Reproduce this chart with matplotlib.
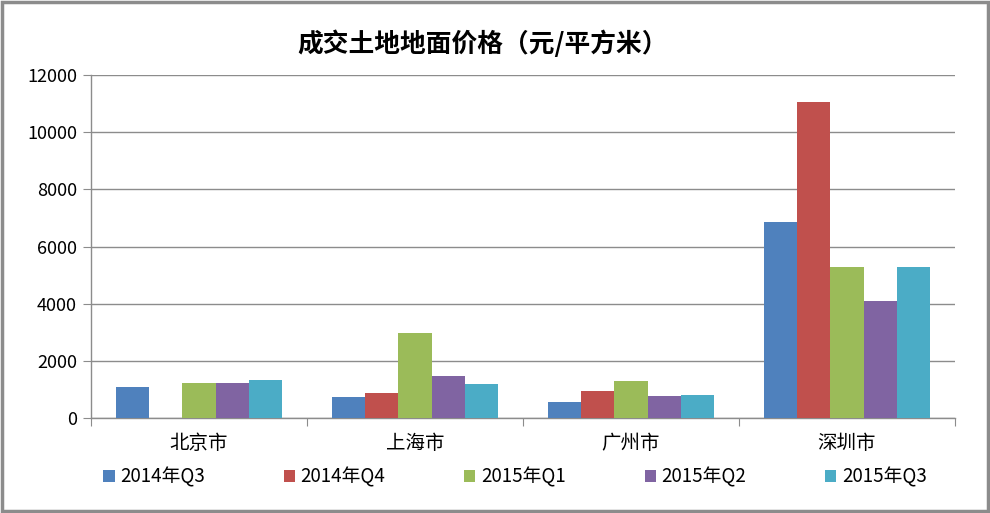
import matplotlib
matplotlib.use("Agg")
import matplotlib.pyplot as plt
from matplotlib.patches import Rectangle
import numpy as np

plt.rcParams['font.family'] = ['Noto Sans CJK SC', 'DejaVu Sans']

cities = ["北京市", "上海市", "广州市", "深圳市"]
series_names = ["2014年Q3", "2014年Q4", "2015年Q1", "2015年Q2", "2015年Q3"]
q3_2014 = [1100, 750, 570, 6840]
q4_2014 = [0, 890, 960, 11060]
q1_2015 = [1240, 2960, 1280, 5270]
q2_2015 = [1240, 1480, 780, 4110]
q3_2015 = [1345, 1200, 820, 5270]
values = [q3_2014, q4_2014, q1_2015, q2_2015, q3_2015]
colors = ["#4F81BD", "#C0504D", "#9BBB59", "#8064A2", "#4BACC6"]
yticks = [0, 2000, 4000, 6000, 8000, 10000, 12000]
title = "成交土地地面价格（元/平方米）"

fig = plt.figure(figsize=(9.9, 5.13), dpi=100)
ax = fig.add_axes([91/990, 1-418/513, (955-91)/990, (418-75)/513])

x = np.arange(len(cities))
w = 0.153
for i, (name, vals, c) in enumerate(zip(series_names, values, colors)):
    ax.bar(x + (i - 2) * w, vals, width=w, color=c, label=name, zorder=3)

ax.set_xlim(-0.5, len(cities) - 0.5)
ax.set_ylim(0, 12000)
ax.set_yticks(yticks)
ax.set_yticklabels([str(v) for v in yticks], fontsize=13)
ax.yaxis.grid(True, color="#8c8c8c", linewidth=1, zorder=0)
ax.tick_params(axis='y', direction='out', length=6, color="#8c8c8c", pad=4)

ax.set_xticks(np.arange(-0.5, len(cities), 1.0))
ax.set_xticklabels([])
ax.tick_params(axis='x', which='major', direction='out', length=6, color="#8c8c8c")
ax.set_xticks(x, minor=True)
ax.set_xticklabels(cities, minor=True, fontsize=14)
ax.tick_params(axis='x', which='minor', length=0, pad=11)

for s in ["top", "right"]:
    ax.spines[s].set_visible(False)
for s in ["left", "bottom"]:
    ax.spines[s].set_color("#8c8c8c")
    ax.spines[s].set_linewidth(1)

fig.text(483/990, 1-44/513, title, ha="center", va="center", fontsize=18.5, fontweight="bold")

leg = fig.legend(loc="center", bbox_to_anchor=(515/990, 1-477/513), ncol=5, frameon=False,
                 fontsize=13.5, handlelength=0.6, handleheight=0.6, handletextpad=0.3,
                 columnspacing=4.2)

fig.patches.append(Rectangle((0.002, 0.003), 0.996, 0.994, transform=fig.transFigure,
                             fill=False, edgecolor="#8c8c8c", linewidth=2.5))

fig.savefig("out.png", dpi=100)
